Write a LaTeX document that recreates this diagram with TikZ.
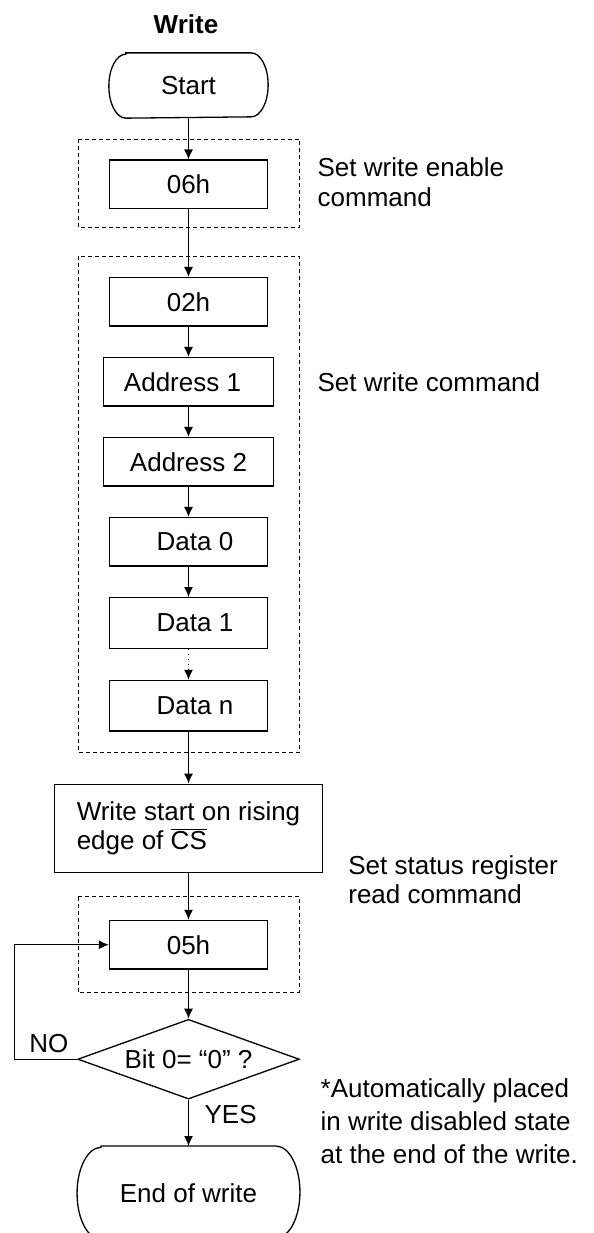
\documentclass[tikz,border=0pt]{standalone}
\usepackage{fontspec}
\setmainfont{Liberation Sans}
\usetikzlibrary{arrows.meta,shapes.geometric}

\begin{document}
\begin{tikzpicture}[x=0.5pt,y=-0.5pt,-{Latex[length=5pt,width=4.5pt]},line width=0.65pt,font=\fontsize{13}{15}\selectfont,
box/.style ={draw,rectangle,inner sep=0pt,minimum width=79pt,minimum height=24.2pt},
term/.style ={rectangle,inner sep=0pt,minimum width=79pt},
group/.style ={-,dash pattern=on 2pt off 1.5pt,line width=0.5pt},
note/.style ={anchor=west,align=left,inner sep=0pt}]
\useasboundingbox (0,0) rectangle (594,1233);

\node[font=\bfseries\fontsize{13}{15}\selectfont] (title) at (186,24.5) {Write};
\node[term,minimum height=32pt] (start) at (188.5,85.5) {Start};
\draw[-] ([xshift=8.5pt]start.north west) -- ([xshift=-8.5pt]start.north east) arc[start angle=90,end angle=-90,x radius=8.5pt,y radius=16pt] -- ([xshift=8.5pt]start.south west) arc[start angle=270,end angle=90,x radius=8.5pt,y radius=16pt] -- cycle;

\node[box] (w06) at (188.5,184.3) {06h};
\node[box] (w02) at (188.5,301.8) {02h};
\node[box,minimum width=84.8pt] (addr1) at (188.5,381.8) {Address 1\hspace*{6pt}};
\node[box,minimum width=84.8pt] (addr2) at (188.5,461.8) {Address 2};
\node[box] (data0) at (188.5,541.8) {\hspace*{6.5pt}Data 0};
\node[box,minimum height=25.3pt] (data1) at (188.5,623) {\hspace*{6.5pt}Data 1};
\node[box,minimum height=25.3pt] (datan) at (188.5,705.7) {\hspace*{6.5pt}Data n};
\node[box,minimum width=134.3pt,minimum height=44.2pt,align=left,font=\fontsize{13}{14.65}\selectfont] (wstart) at (188.5,828.5) {Write start on rising\\edge of $\overline{\mbox{CS}}$};
\node[box] (w05) at (188.5,944.7) {05h};
\node[draw,diamond,aspect=3,inner sep=0pt,minimum width=110.8pt,minimum height=39.85pt] (check) at (188.5,1059.2) {Bit 0= “0” ?};
\node[term,minimum width=110.8pt,minimum height=46pt] (endw) at (188.5,1192.7) {End of write};
\draw[-] ([xshift=12pt]endw.north west) -- ([xshift=-12pt]endw.north east) arc[start angle=90,end angle=-90,x radius=12pt,y radius=23pt] -- ([xshift=12pt]endw.south west) arc[start angle=270,end angle=90,x radius=12pt,y radius=23pt] -- cycle;
\coordinate (loop) at (14.3,1059.2);

\draw[group] (78,139) rectangle (299.5,227.3);
\draw[group] (78,256.3) rectangle (299.5,752.3);
\draw[group] (78,896.7) rectangle (299.5,992.3);

\node[note] (lbl1) at (317,182.2) {Set write enable\\command};
\node[note] (lbl2) at (317,382.2) {Set write command};
\node[note,font=\fontsize{13}{14.5}\selectfont] (lbl3) at (347.7,880) {Set status register\\read command};
\node[note,font=\fontsize{13}{16.65}\selectfont] (lbl4) at (320,1121.2) {*Automatically placed\\in write disabled state\\at the end of the write.};

\path (start) edge (w06);
\path (w06) edge (w02);
\path (w02) edge (addr1);
\path (addr1) edge (addr2);
\path (addr2) edge (data0);
\path (data0) edge (data1);
\path (data1) edge [dotted,line width=0.5pt] (datan);
\path (datan) edge (wstart);
\path (wstart) edge (w05);
\path (w05) edge (check);
\path (check) edge node[pos=0.33,right=7.75pt,inner sep=0pt] {YES} (endw);
\draw (check) -- node[pos=0.45,above=3pt,inner sep=0pt] {NO} (loop) |- (w05);
\end{tikzpicture}
\end{document}
